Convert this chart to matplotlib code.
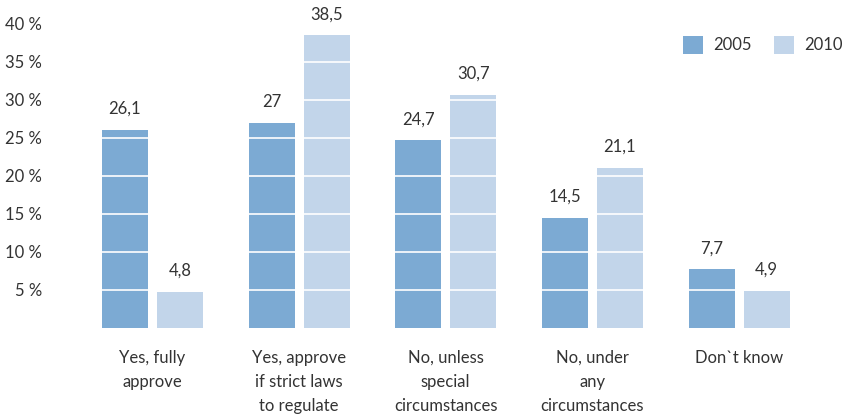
import matplotlib
matplotlib.use("Agg")
import matplotlib.pyplot as plt
import numpy as np

categories = ["Yes, fully\napprove", "Yes, approve\nif strict laws\nto regulate",
              "No, unless\nspecial\ncircumstances", "No, under\nany\ncircumstances", "Don`t know"]
series_names = ["2005", "2010"]
values_2005 = [26.1, 27, 24.7, 14.5, 7.7]
values_2010 = [4.8, 38.5, 30.7, 21.1, 4.9]
yticks = [5, 10, 15, 20, 25, 30, 35, 40]

c05 = "#7caad3"
c10 = "#c2d5ea"
tc = "#333333"

plt.rcParams['font.family'] = ['Lato', 'DejaVu Sans']
fs = 12

W, H = 846, 418
fig = plt.figure(figsize=(W/100, H/100), dpi=100)
ax_l = 79/W
ax_w = 733.4/W
y0 = 328
ymax = 41
pxper = 7.6
ax_b = (H - y0)/H
ax_h = ymax*pxper/H
ax = fig.add_axes([ax_l, ax_b, ax_w, ax_h])

x = np.arange(len(categories))
bw = 46/146.7
off = 27.5/146.7
b1 = ax.bar(x - off, values_2005, bw, color=c05, label=series_names[0], zorder=2)
b2 = ax.bar(x + off, values_2010, bw, color=c10, label=series_names[1], zorder=2)

for t in yticks[:-1]:
    ax.axhline(t, color="white", lw=1.2, zorder=3)

def fmt(v):
    s = ("%g" % v).replace(".", ",")
    return s

for bars, vals in ((b1, values_2005), (b2, values_2010)):
    for r, v in zip(bars, vals):
        ax.text(r.get_x() + r.get_width()/2, v + 1.7, fmt(v), ha="center", va="bottom",
                fontsize=fs, color=tc)

ax.set_xlim(-0.5, 4.5)
ax.set_ylim(0, ymax)
ax.set_yticks(yticks)
ax.set_yticklabels(["%d %%" % t for t in yticks], fontsize=fs, color=tc)
ax.set_xticks(x)
ax.set_xticklabels(categories, fontsize=fs, color=tc, linespacing=1.62, va="top")
ax.tick_params(axis="y", length=0, pad=26.5)
ax.tick_params(axis="x", length=0, pad=15.5)
for s in ax.spines.values():
    s.set_visible(False)

leg = ax.legend(loc="upper right", bbox_to_anchor=(1.062, 0.985), ncol=2, frameon=False,
                fontsize=fs, handlelength=1.25, handleheight=1.25, columnspacing=1.3,
                handletextpad=0.6, labelcolor=tc)

fig.savefig("out.png", dpi=100)
